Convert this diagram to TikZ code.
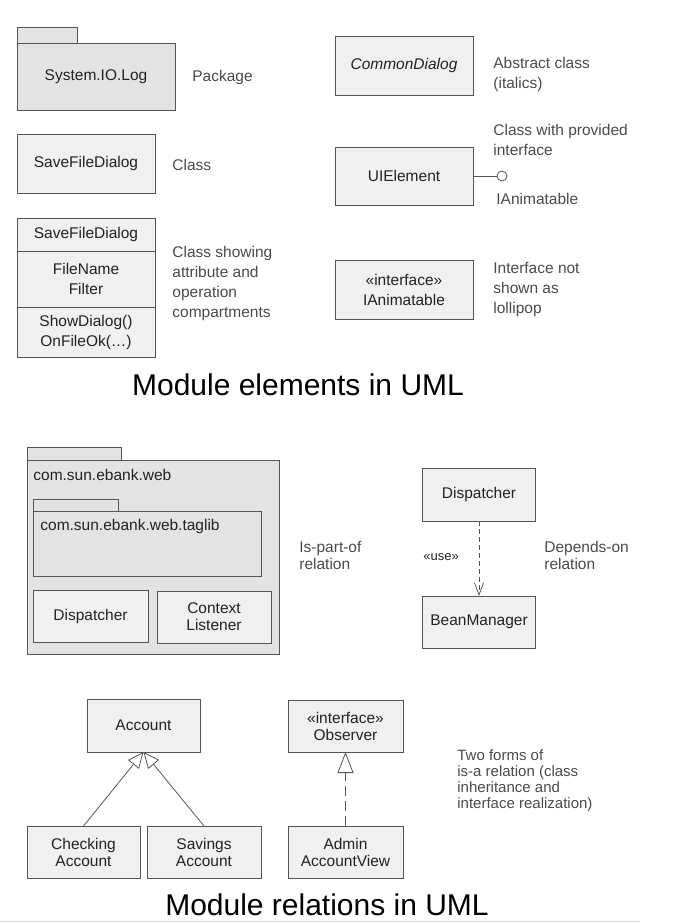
\documentclass[tikz,border=0pt]{standalone}
\usepackage{fontspec}
\setmainfont{Liberation Sans}
\usepackage{tikz}
\usetikzlibrary{arrows.meta,positioning}

\definecolor{boxfill}{HTML}{F0F0F0}
\definecolor{pkgfill}{HTML}{E3E3E3}
\definecolor{edgegray}{HTML}{555555}
\definecolor{textdark}{HTML}{222222}
\definecolor{notegray}{HTML}{4A4A4A}

\begin{document}
\begin{tikzpicture}[x=1pt,y=-1pt,line width=0.8pt,
                    every node/.style={font=\fontsize{15.5}{20}\selectfont}]
  \tikzstyle{umlclass}=[draw=edgegray,fill=boxfill,outer sep=0pt,inner sep=1pt,
                        align=center,text=textdark]
  \tikzstyle{umlpkg}=[umlclass,fill=pkgfill]
  \tikzstyle{pkgtab}=[draw=edgegray,fill=pkgfill]
  \tikzstyle{remark}=[anchor=west,align=left,text=notegray,inner sep=0pt]
  \tikzstyle{tight}=[font=\fontsize{15.5}{17}\selectfont]
  \tikzstyle{heading}=[font=\fontsize{30}{34}\selectfont,text=black]

  \useasboundingbox (0,0) rectangle (696,924);

  % module elements
  \node[umlpkg,minimum width=158pt,minimum height=67pt] (Log) at (96,76.5) {System.IO.Log};
  \draw[pkgtab] (Log.north west) rectangle ++(60,-16);
  \node[remark] (LogNote) at (192,77) {Package};

  \node[umlclass,minimum width=138pt,minimum height=59pt] (Save) at (86,163.5) {SaveFileDialog};
  \node[remark] (SaveNote) at (172,165) {Class};

  \node[umlclass,minimum width=138pt,minimum height=33pt] (SaveTop) at (86,234.5) {SaveFileDialog};
  \node[umlclass,minimum width=138pt,minimum height=56pt] (SaveAttr) [below=0pt of SaveTop] {FileName\\Filter};
  \node[umlclass,minimum width=138pt,minimum height=50pt] (SaveOps) [below=0pt of SaveAttr] {ShowDialog()\\OnFileOk(…)};
  \node[remark] (CompNote) at (172,283) {Class showing\\attribute and\\operation\\compartments};

  \node[umlclass,minimum width=138pt,minimum height=59pt] (Common) at (404,65.5) {\itshape CommonDialog};
  \node[remark] (CommonNote) at (493,74) {Abstract class\\(italics)};

  \node[umlclass,minimum width=138pt,minimum height=58pt] (UI) at (404,176) {UIElement};
  \node[draw=edgegray,circle,fill=white,minimum size=10pt,inner sep=0pt] (Lol) at (502,176) {};
  \draw[edgegray] (UI) -- (Lol);
  \node[remark] (UINote) at (493,140) {Class with provided\\interface};
  \node[remark] (LolNote) at (496,199) {IAnimatable};

  \node[umlclass,minimum width=138pt,minimum height=59pt] (Anim) at (404,289.5) {«interface»\\IAnimatable};
  \node[remark] (AnimNote) at (493,289) {Interface not\\shown as\\lollipop};

  \node[heading] (TitleA) at (298,385) {Module elements in UML};

  % module relations
  \node[umlpkg,minimum width=252pt,minimum height=194pt] (Web) at (153,557) {};
  \draw[pkgtab] (Web.north west) rectangle ++(94,-13);
  \node[remark,text=textdark] (WebLbl) at (33,475) {com.sun.ebank.web};
  \node[umlpkg,minimum width=228pt,minimum height=65pt] (Taglib) at (147,543.5) {};
  \draw[pkgtab] (Taglib.north west) rectangle ++(85,-12);
  \node[remark,text=textdark] (TaglibLbl) at (40,526) {com.sun.ebank.web.taglib};
  \node[umlclass,tight,minimum width=115pt,minimum height=52pt] (DispA) at (90.5,616) {Dispatcher};
  \node[umlclass,tight,minimum width=114pt,minimum height=52pt] (Ctx) at (214,617) {Context\\Listener};
  \node[remark,tight] (WebNote) at (299,555) {Is-part-of\\relation};

  \node[umlclass,tight,minimum width=113pt,minimum height=53pt] (DispB) at (479,494.5) {Dispatcher};
  \node[umlclass,tight,minimum width=113pt,minimum height=52pt] (Bean) at (479,622) {BeanManager};
  \draw[edgegray,dash pattern=on 5pt off 3pt,-{Straight Barb[length=12pt,width=9pt]}] (DispB) -- (Bean);
  \node[remark,tight,text=textdark,font=\fontsize{13}{15}\selectfont] (Use) at (423,557) {«use»};
  \node[remark,tight] (UseNote) at (544,555) {Depends-on\\relation};

  \node[umlclass,tight,minimum width=113pt,minimum height=53pt] (Acc) at (143.5,725.5) {Account};
  \node[umlclass,tight,minimum width=113pt,minimum height=52pt] (Chk) at (83.5,852) {Checking\\Account};
  \node[umlclass,tight,minimum width=114pt,minimum height=52pt] (Sav) at (204,852) {Savings\\Account};
  \draw[edgegray,-{Triangle[open,fill=white,length=16pt,width=14pt]}] (Chk.north) -- (Acc.south);
  \draw[edgegray,-{Triangle[open,fill=white,length=16pt,width=14pt]}] (Sav.north) -- (Acc.south);

  \node[umlclass,tight,minimum width=115pt,minimum height=52pt] (Obs) at (345.5,726) {«interface»\\Observer};
  \node[umlclass,tight,minimum width=115pt,minimum height=52pt] (Adm) at (345.5,852) {Admin\\AccountView};
  \draw[edgegray,dash pattern=on 10pt off 5pt,-{Triangle[open,fill=white,length=21pt,width=16pt]}] (Adm) -- (Obs);
  \node[remark,font=\fontsize{15}{16}\selectfont] (IsaNote) at (457,781) {Two forms of\\is-a relation (class\\inheritance and\\interface realization)};

  \node[heading] (TitleB) at (327,905) {Module relations in UML};
  \draw[black!15,line width=1pt] (0,921) -- (640,921);
\end{tikzpicture}
\end{document}
